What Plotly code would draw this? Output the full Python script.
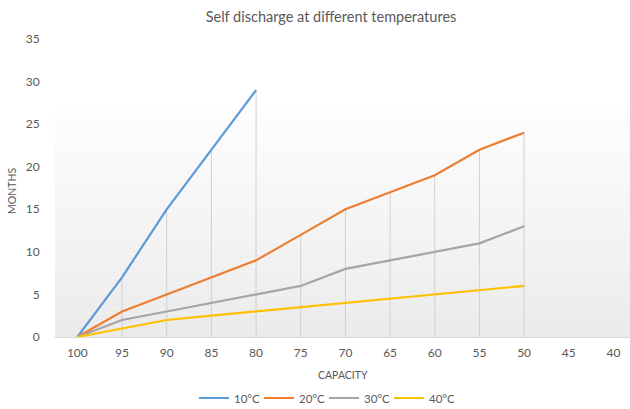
import plotly.graph_objects as go

categories = ["100", "95", "90", "85", "80", "75", "70", "65", "60", "55", "50", "45", "40"]
s10 = [0, 7, 15, 22, 29]
s20 = [0, 3, 5, 7, 9, 12, 15, 17, 19, 22, 24]
s30 = [0, 2, 3, 4, 5, 6, 8, 9, 10, 11, 13]
s40 = [0, 1, 2, 2.5, 3, 3.5, 4, 4.5, 5, 5.5, 6]
series = [("10°C", s10, "#5B9BD5"), ("20°C", s20, "#ED7D31"),
          ("30°C", s30, "#A5A5A5"), ("40°C", s40, "#FFC000")]

fig = go.Figure()

# gradient background bands
N = 40
top_val = 28.0
shapes = []
for k in range(N):
    y0 = top_val * k / N
    y1 = top_val * (k + 1) / N
    t = k / (N - 1)
    c = int(235 + (255 - 235) * t)
    shapes.append(dict(type="rect", xref="paper", yref="y", x0=0, x1=1, y0=y0, y1=y1,
                       fillcolor=f"rgb({c},{c},{c})", line=dict(width=0), layer="below"))

# drop lines
dx, dy = [], []
for i, cat in enumerate(categories):
    vals = [s[i] for _, s, _ in series if i < len(s)]
    if vals:
        dx += [cat, cat, None]
        dy += [0, max(vals), None]
fig.add_trace(go.Scatter(x=dx, y=dy, mode="lines", line=dict(color="#d0d0d0", width=1),
                         showlegend=False, hoverinfo="skip"))

for name, vals, color in series:
    fig.add_trace(go.Scatter(x=categories[:len(vals)], y=vals, mode="lines", name=name,
                             line=dict(color=color, width=2.2)))

font_family = "Lato, 'Open Sans', sans-serif"
fig.update_layout(
    width=630, height=409,
    margin=dict(l=55, r=0, t=39, b=72, autoexpand=False),
    paper_bgcolor="white", plot_bgcolor="white",
    shapes=shapes,
    font=dict(family=font_family, color="#595959", size=12),
    title=dict(text="Self discharge at different temperatures", x=331 / 630, xref="container",
               xanchor="center", y=1 - 17 / 409, yref="container", yanchor="middle",
               font=dict(size=14.5, color="#595959", family=font_family)),
    xaxis=dict(type="category", categoryorder="array", categoryarray=categories,
               range=[-0.5, 12.37], showgrid=False, zeroline=False, automargin=False,
               showline=True, linecolor="#d9d9d9", linewidth=1,
               ticks="outside", ticklen=5, tickcolor="rgba(0,0,0,0)",
               tickfont=dict(size=12, color="#595959")),
    yaxis=dict(range=[0, 35], dtick=5, showgrid=False, zeroline=False, showline=False,
               automargin=False,
               ticks="outside", ticklen=12, tickcolor="rgba(0,0,0,0)",
               tickfont=dict(size=12, color="#595959")),
    legend=dict(orientation="h", x=(324 - 55) / 575, xanchor="center",
                y=(337 - 398) / 298, yanchor="middle",
                font=dict(size=11.5, color="#595959"), itemwidth=30, tracegroupgap=0,
                entrywidth=20, entrywidthmode="pixels"),
    annotations=[
        dict(text="CAPACITY", xref="paper", yref="paper", x=(343 - 55) / 575,
             y=(337 - 375) / 298, showarrow=False, font=dict(size=10.5, color="#595959"),
             xanchor="center", yanchor="middle"),
        dict(text="MONTHS", xref="paper", yref="paper", x=(12 - 55) / 575,
             y=0.49, showarrow=False, textangle=-90, font=dict(size=10.5, color="#595959"),
             xanchor="center", yanchor="middle"),
    ],
)

fig.write_html("out.html", config={"displayModeBar": False},
               post_script="document.body.style.margin='0';document.body.style.overflow='hidden';")
